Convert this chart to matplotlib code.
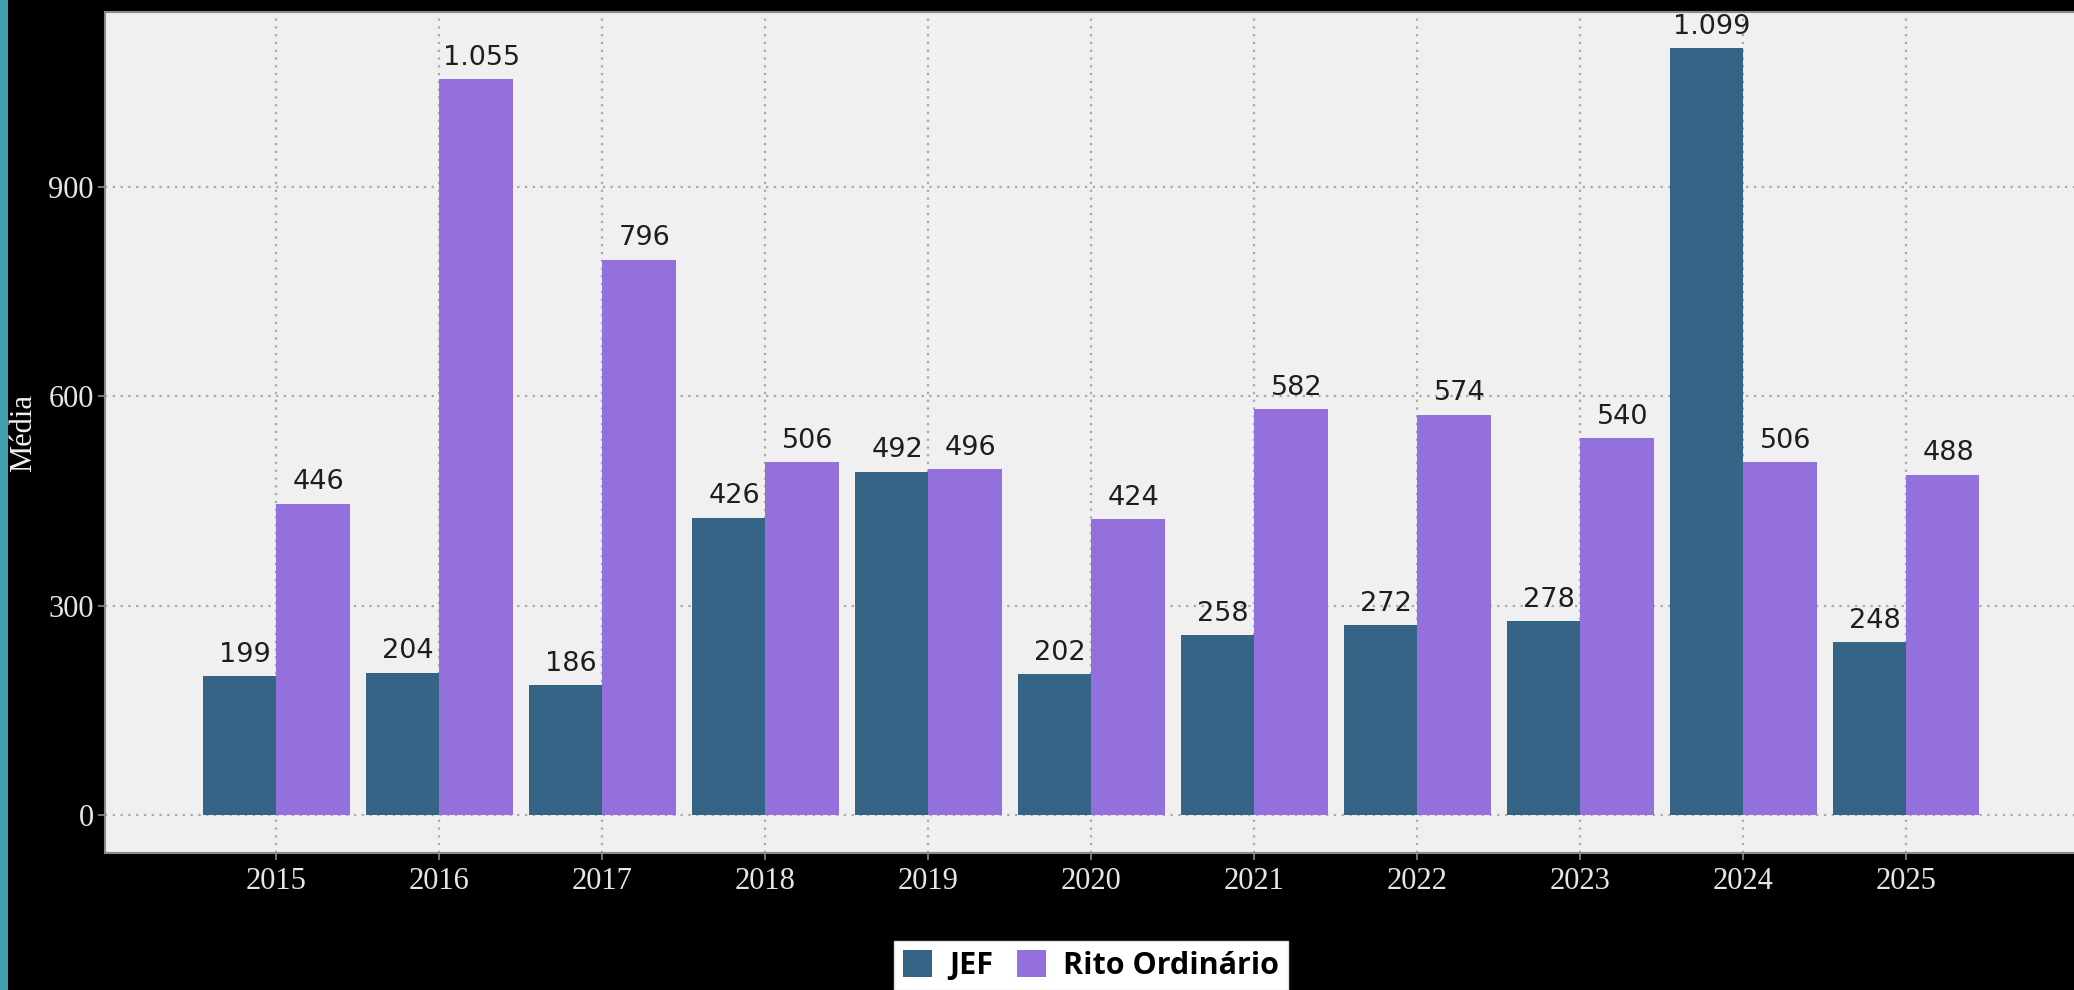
import matplotlib
matplotlib.use("Agg")
import matplotlib.pyplot as plt
import numpy as np
from matplotlib.patches import Rectangle

years = ["2015", "2016", "2017", "2018", "2019", "2020", "2021", "2022", "2023", "2024", "2025"]
jef = [199, 204, 186, 426, 492, 202, 258, 272, 278, 1099, 248]
rito = [446, 1055, 796, 506, 496, 424, 582, 574, 540, 506, 488]
series_names = ["JEF", "Rito Ordinário"]
y_ticks = [0, 300, 600, 900]

W, H = 2074, 990
fig = plt.figure(figsize=(W / 100, H / 100), dpi=100, facecolor="black")

# teal strip at left edge
fig.patches.append(Rectangle((0, 0), 8 / W, 1, transform=fig.transFigure,
                             facecolor="#3fa1ab", edgecolor="none", zorder=0))

left, right = 105 / W, 1.0
bottom, top = 1 - 853 / H, 1 - 12 / H
ax = fig.add_axes([left, bottom, right - left, top - bottom])
ax.set_facecolor("#f0f0f0")

x = np.arange(len(years))
bw = 0.45
c_jef = "#356487"
c_rito = "#9370db"
b1 = ax.bar(x - bw / 2, jef, bw, color=c_jef, label=series_names[0], zorder=2)
b2 = ax.bar(x + bw / 2, rito, bw, color=c_rito, label=series_names[1], zorder=2)

def fmt(v):
    return f"{v:,}".replace(",", ".")

for bars, vals in ((b1, jef), (b2, rito)):
    for r, v in zip(bars, vals):
        ax.annotate(fmt(v), (r.get_x() + r.get_width() / 2, r.get_height()),
                    xytext=(4, 6), textcoords="offset points",
                    ha="center", va="bottom", fontsize=19.5,
                    family="DejaVu Sans", color="#1e1e1e", zorder=3)

ax.set_xlim(-1.052, 11.03)
ax.set_ylim(-54.5, 1151)
ax.set_xticks(x)
ax.set_xticklabels(years)
ax.set_yticks(y_ticks)
ax.set_yticklabels([str(t) for t in y_ticks])

ax.set_axisbelow(True)
ax.grid(True, which="major", axis="both", color="#a8a8a8",
        linestyle=(0, (1, 2.5)), linewidth=1.6, zorder=0)

for s in ax.spines.values():
    s.set_color("#8a8a8a")
    s.set_linewidth(1.5)
ax.spines["right"].set_visible(False)

ax.tick_params(axis="both", colors="#8a8a8a", length=5, width=1.2,
               labelcolor="#e6e6e6", labelsize=22)
ax.tick_params(axis="x", pad=5)
ax.tick_params(axis="y", pad=3)
for lab in ax.get_xticklabels() + ax.get_yticklabels():
    lab.set_family("Liberation Serif")

ax.set_ylabel("Média", fontsize=22, family="Liberation Serif", color="#f0f0f0")
ax.yaxis.set_label_coords((38 - 105) / (W - 105), 0.5)

leg = fig.legend(handles=[b1, b2], labels=series_names, loc="upper center",
                 bbox_to_anchor=(1091 / W, 1 - 941 / H), ncol=2,
                 frameon=True, fancybox=False, facecolor="white",
                 edgecolor="#dddddd", framealpha=1,
                 prop={"family": "Open Sans", "weight": "bold", "size": 22},
                 handlelength=0.95, handleheight=0.95, handletextpad=0.55,
                 columnspacing=0.8, borderpad=0.3, borderaxespad=0)
for t in leg.get_texts():
    t.set_color("black")

fig.savefig("out.png", dpi=100, facecolor="black")
